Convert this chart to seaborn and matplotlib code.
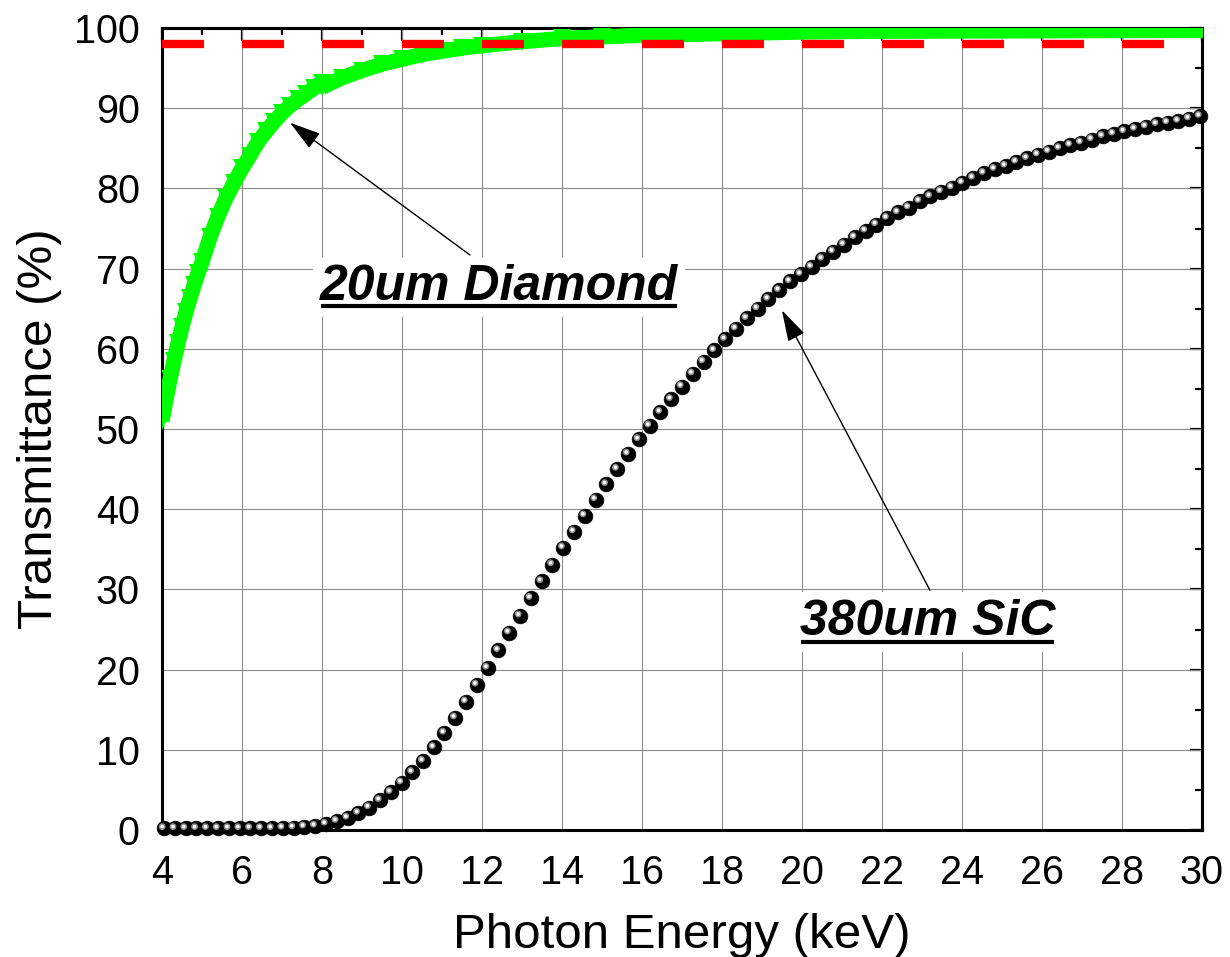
import matplotlib
matplotlib.use("Agg")
import matplotlib.pyplot as plt
import seaborn as sns
from matplotlib.ticker import MultipleLocator
from matplotlib.transforms import offset_copy, IdentityTransform
from matplotlib.lines import Line2D

# ---------------- data ----------------
sic_energy = [4.05, 4.32, 4.59, 4.86, 5.13, 5.40, 5.67, 5.94, 6.21, 6.48,
              6.75, 7.02, 7.29, 7.56, 7.83, 8.10, 8.37, 8.64, 8.91, 9.18,
              9.45, 9.72, 9.99, 10.26, 10.53, 10.80, 11.06, 11.33, 11.60, 11.87,
              12.14, 12.41, 12.68, 12.95, 13.22, 13.49, 13.76, 14.03, 14.30, 14.57,
              14.84, 15.11, 15.38, 15.65, 15.92, 16.19, 16.46, 16.73, 17.00, 17.27,
              17.54, 17.81, 18.08, 18.35, 18.62, 18.89, 19.16, 19.43, 19.70, 19.97,
              20.24, 20.51, 20.78, 21.05, 21.32, 21.59, 21.86, 22.13, 22.40, 22.67,
              22.94, 23.21, 23.48, 23.75, 24.01, 24.28, 24.55, 24.82, 25.09, 25.36,
              25.63, 25.90, 26.17, 26.44, 26.71, 26.98, 27.25, 27.52, 27.79, 28.06,
              28.33, 28.60, 28.87, 29.14, 29.41, 29.68, 29.95]
sic_trans = [0.2, 0.2, 0.2, 0.2, 0.2, 0.2, 0.2, 0.2, 0.2, 0.2,
             0.2, 0.25, 0.3, 0.4, 0.5, 0.75, 1.1, 1.5, 2.1, 2.8,
             3.7, 4.7, 5.9, 7.2, 8.6, 10.3, 12.1, 14.0, 16.0, 18.1,
             20.2, 22.4, 24.6, 26.7, 28.9, 31.0, 33.1, 35.2, 37.2, 39.2,
             41.2, 43.1, 45.0, 46.9, 48.7, 50.4, 52.1, 53.7, 55.3, 56.9,
             58.4, 59.8, 61.2, 62.5, 63.8, 65.0, 66.2, 67.3, 68.4, 69.3,
             70.2, 71.2, 72.1, 73.0, 73.9, 74.7, 75.5, 76.3, 77.0, 77.6,
             78.4, 79.0, 79.6, 80.1, 80.7, 81.3, 81.9, 82.4, 82.8, 83.3,
             83.75, 84.2, 84.6, 85.0, 85.4, 85.7, 86.1, 86.5, 86.8, 87.1,
             87.4, 87.7, 88.0, 88.2, 88.4, 88.7, 89.0]

dia_energy_low = [4.0, 4.1, 4.2, 4.3, 4.4, 4.5, 4.6, 4.7, 4.8, 4.9, 5.0,
                  5.2, 5.4, 5.6, 5.8, 6.0, 6.2, 6.4, 6.6, 6.8, 7.0,
                  7.2, 7.4, 7.6, 7.8, 8.0]
dia_trans_low = [51.0, 53.7, 56.2, 58.5, 60.7, 62.7, 64.6, 66.3, 67.9, 69.4, 70.8,
                 73.9, 76.5, 78.8, 80.7, 82.5, 84.1, 85.8, 87.1, 88.3, 89.4,
                 90.3, 91.1, 91.8, 92.5, 93.1]

dia_energy_high = [8.0, 8.5, 9.0, 9.5, 10.0, 10.5, 11.0, 11.5, 12.0, 13.0,
                   14.0, 15.0, 16.0, 18.0, 20.0, 22.0, 25.0, 30.0]
dia_trans_high = [92.6, 93.8, 94.7, 95.5, 96.1, 96.7, 97.1, 97.5, 97.8, 98.3,
                  98.7, 98.9, 99.1, 99.3, 99.5, 99.6, 99.65, 99.7]

ref_energy = [4.0, 30.0]
ref_trans = [98.0, 98.0]

x_ticks = [4, 6, 8, 10, 12, 14, 16, 18, 20, 22, 24, 26, 28, 30]
y_ticks = [0, 10, 20, 30, 40, 50, 60, 70, 80, 90, 100]

x_label = "Photon Energy (keV)"
y_label = "Transmittance (%)"
label_dia = "20um Diamond"
label_sic = "380um SiC"

# ---------------- style ----------------
sns.set_style("white")
plt.rcParams["font.family"] = ["Liberation Sans", "DejaVu Sans"]
plt.rcParams.update({"text.color": "black", "axes.labelcolor": "black",
                     "xtick.color": "black", "ytick.color": "black"})

fig = plt.figure(figsize=(12.3, 9.57), dpi=100)
ax = fig.add_axes([0.1317, 0.1327, 0.8455, 0.838])

GREEN = "#00ff00"

# diamond band
for xe, yt in ((dia_energy_low, dia_trans_low), (dia_energy_high, dia_trans_high)):
    sns.lineplot(x=xe, y=yt, ax=ax, color=GREEN, lw=11, marker="v", ms=13,
                 mec=GREEN, mew=0, estimator=None, sort=False,
                 solid_capstyle="butt", zorder=3)

# reference dashed line
sns.lineplot(x=ref_energy, y=ref_trans, ax=ax, color="#ff0000", lw=6,
             linestyle=(0, (5.04, 4.56)), dash_capstyle="butt",
             estimator=None, sort=False, zorder=4)

# SiC balls
sns.scatterplot(x=sic_energy, y=sic_trans, ax=ax, s=112, color="black",
                edgecolor="black", linewidth=0.5, clip_on=False, zorder=5)
hl = offset_copy(ax.transData, fig=fig, x=-1.8, y=1.8, units="dots")
sns.scatterplot(x=sic_energy, y=sic_trans, ax=ax, s=24, color="#8f8f8f",
                edgecolor="none", linewidth=0, transform=hl, clip_on=False, zorder=6)
sns.scatterplot(x=sic_energy, y=sic_trans, ax=ax, s=7, color="white",
                edgecolor="none", linewidth=0, transform=hl, clip_on=False, zorder=7)

# ---------------- axes ----------------
ax.set_xlim(4, 30)
ax.set_ylim(0, 100)
ax.set_xticks(x_ticks)
ax.set_yticks(y_ticks)
ax.xaxis.set_minor_locator(MultipleLocator(1))
ax.yaxis.set_minor_locator(MultipleLocator(5))
ax.set_axisbelow(True)
ax.grid(True, which="major", color="#8c8c8c", lw=0.8)

for sp in ax.spines.values():
    sp.set_linewidth(2.2)
    sp.set_color("black")
    sp.set_visible(True)

ax.tick_params(which="both", direction="out", width=1.6, colors="black",
               labelsize=28.5, top=False, right=False)
ax.tick_params(which="major", length=9)
ax.tick_params(which="minor", length=5)
ax.tick_params(axis="x", pad=8)
ax.tick_params(axis="y", pad=7)

secx = ax.secondary_xaxis("top")
secx.set_xticks(x_ticks)
secx.xaxis.set_minor_locator(MultipleLocator(1))
secx.tick_params(which="both", direction="in", width=1.6, labeltop=False, colors="black")
secx.tick_params(which="major", length=9)
secx.tick_params(which="minor", length=5)
secx.spines["top"].set_linewidth(2.2)

secy = ax.secondary_yaxis("right")
secy.set_yticks(y_ticks)
secy.yaxis.set_minor_locator(MultipleLocator(5))
secy.tick_params(which="both", direction="in", width=1.6, labelright=False, colors="black")
secy.tick_params(which="major", length=9)
secy.tick_params(which="minor", length=5)
secy.spines["right"].set_linewidth(2.2)

ax.set_xlabel(x_label, fontsize=35.5, color="black")
ax.set_ylabel(y_label, fontsize=35.5, color="black")
ax.xaxis.set_label_coords(0.5, -0.1035)
ax.yaxis.set_label_coords(-0.0965, 0.5)

# ---------------- annotations ----------------
box = dict(facecolor="white", edgecolor="none", pad=5)
t1 = ax.text(7.95, 66.1, label_dia, fontsize=36, fontweight="bold", fontstyle="italic",
             color="black", ha="left", va="baseline", bbox=box, zorder=8)
t2 = ax.text(19.95, 24.3, label_sic, fontsize=36, fontweight="bold", fontstyle="italic",
             color="black", ha="left", va="baseline", bbox=box, zorder=8)

arrow = dict(arrowstyle="-|>,head_length=1.3,head_width=0.38", lw=1.0, color="black",
             shrinkA=0, shrinkB=0, mutation_scale=15)
ax.annotate("", xy=(7.2, 88.2), xytext=(11.7, 71.7), arrowprops=arrow, zorder=9)
ax.annotate("", xy=(19.5, 64.8), xytext=(23.2, 29.9), arrowprops=arrow, zorder=9)

fig.canvas.draw()
rend = fig.canvas.get_renderer()
for t in (t1, t2):
    bb = t.get_window_extent(rend)
    yline = bb.y0 + 3.5
    fig.add_artist(Line2D([bb.x0 + 1, bb.x1 - 1], [yline, yline], transform=IdentityTransform(),
                          color="black", lw=3.0, solid_capstyle="butt", zorder=10))

fig.savefig("out.png", dpi=100)
